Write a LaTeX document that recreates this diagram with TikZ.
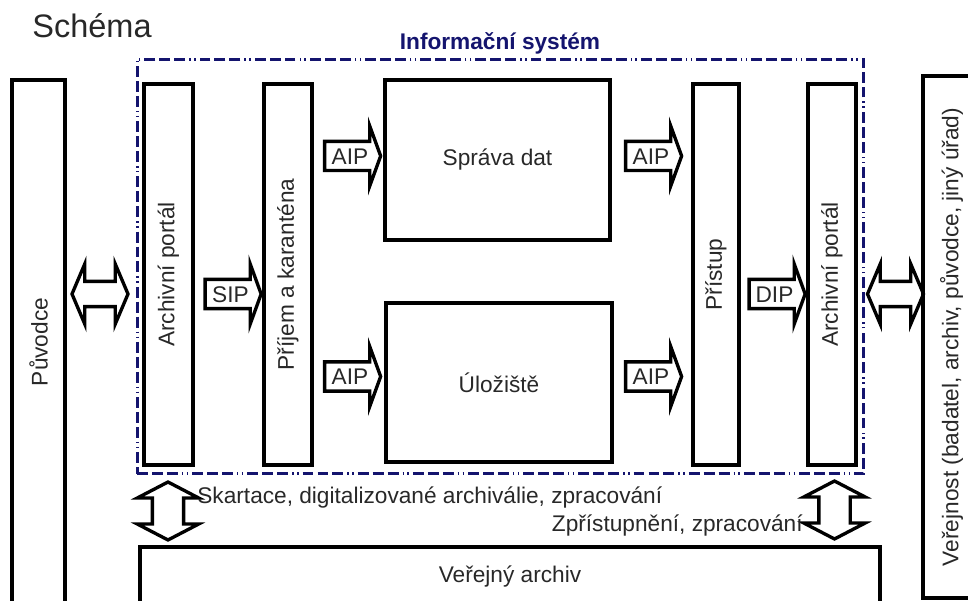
\documentclass[tikz,border=0pt]{standalone}
\usepackage{fontspec}
\setmainfont{Liberation Sans}
\usetikzlibrary{shapes.arrows}
\definecolor{isnavy}{RGB}{20,20,110}
\definecolor{txtgray}{RGB}{40,40,40}
\newcommand{\dgtext}{\fontsize{12.9pt}{15pt}\selectfont}
\tikzset{
  block/.style={draw, line width=1.9pt, inner sep=0pt, text=txtgray, font=\dgtext},
  isframe/.style={draw=isnavy, line width=1.7pt, inner sep=0pt,
    dash pattern=on 6.2pt off 2.3pt on 6.2pt off 2.3pt on 6.2pt off 2.3pt on 0.8pt off 2pt on 0.8pt off 2.3pt},
  sarrow/.style={single arrow, draw, line width=1.9pt, text=txtgray, font=\dgtext,
    text height=9.3pt, text depth=0pt, inner xsep=1pt, inner ysep=2.7pt,
    single arrow head extend=0.31cm, single arrow tip angle=140, minimum height=1.12cm},
  darrow/.style={double arrow, draw, line width=1.9pt, text height=0pt, text depth=0pt,
    inner xsep=0pt, inner ysep=0.22cm, double arrow head extend=0.35cm,
    double arrow tip angle=134, minimum height=1.12cm},
  varrow/.style={double arrow, draw, line width=1.9pt, text height=0pt, text depth=0pt,
    inner xsep=0pt, inner ysep=0.28cm, double arrow head extend=0.3cm,
    double arrow tip angle=125, minimum height=1.16cm, rotate=90},
  note/.style={text=txtgray, font=\dgtext, inner sep=0pt}
}
\begin{document}
\begin{tikzpicture}[x=0.02cm, y=-0.02cm]
\useasboundingbox (0,0) rectangle (968,601);
% headings
\node[note, anchor=base west, font=\fontsize{18.5pt}{22pt}\selectfont] at (32,38) (schema) {Schéma};
\node[inner sep=0pt, anchor=base, text=isnavy, font=\dgtext\bfseries] at (500,50) (istitle) {Informační systém};
\node[isframe, minimum width=14.54cm, minimum height=8.3cm] at (500.5,266.5) (infsys) {};
% boxes
\node[block, rotate=90, minimum width=10.48cm, minimum height=1.06cm] at (38.5,342) (puvodce) {Původce};
\node[block, rotate=90, minimum width=7.62cm, minimum height=0.98cm] at (168.5,274.5) (portalA) {Archivní portál};
\node[block, rotate=90, minimum width=7.62cm, minimum height=0.96cm] at (288,274.5) (prijem) {Příjem a karanténa};
\node[block, minimum width=4.5cm, minimum height=3.2cm] at (497.5,160) (sprava) {Správa dat};
\node[block, minimum width=4.52cm, minimum height=3.18cm] at (499,382.5) (uloziste) {Úložiště};
\node[block, rotate=90, minimum width=7.62cm, minimum height=0.92cm] at (716,274.5) (pristup) {Přístup};
\node[block, rotate=90, minimum width=7.62cm, minimum height=0.96cm] at (832,274.5) (portalB) {Archivní portál};
\node[block, rotate=90, minimum width=10.44cm, minimum height=1.14cm] at (951.5,337) (verejnost) {Veřejnost (badatel, archiv, původce, jiný úřad)};
\node[block, minimum width=14.8cm, minimum height=1.2cm] at (510,577) (archiv) {Veřejný archiv};
% package arrows
\node[sarrow] at (230.5,294) (sip) {SIP};
\node[sarrow] at (350,156) (aipA) {AIP};
\node[sarrow] at (651,156) (aipB) {AIP};
\node[sarrow] at (350,376.5) (aipC) {AIP};
\node[sarrow] at (651,376.5) (aipD) {AIP};
\node[sarrow] at (774.5,294) (dip) {DIP};
% exchange arrows
\node[darrow] at (100,294) (xchgA) {};
\node[darrow] at (895.5,294) (xchgB) {};
\node[varrow] at (168,511) (xferA) {};
\node[varrow] at (834.5,510) (xferB) {};
\node[note, anchor=base west] at (197,503) (skartace) {Skartace, digitalizované archiválie, zpracování};
\node[note, anchor=base east] at (803,532) (zpristup) {Zpřístupnění, zpracování};
\end{tikzpicture}
\end{document}
